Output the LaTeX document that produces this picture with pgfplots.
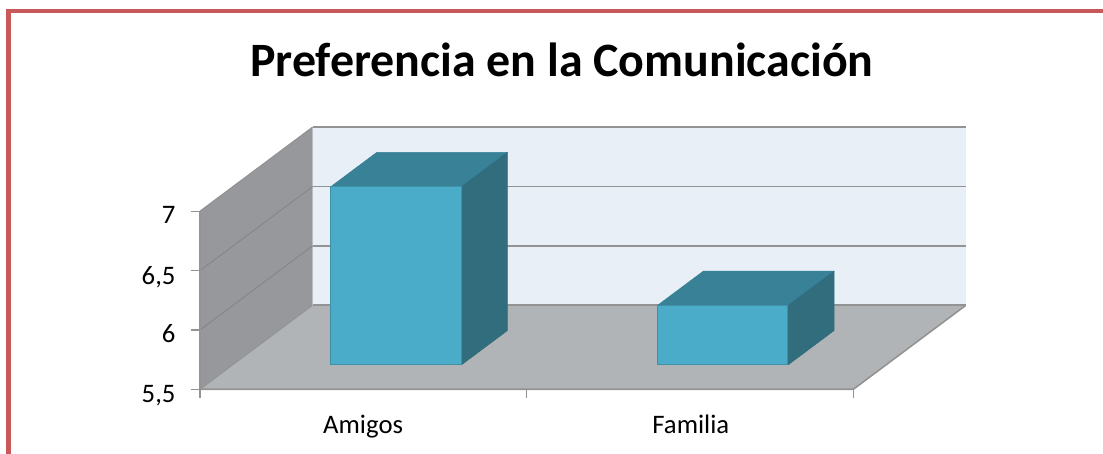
\documentclass[border=0pt]{standalone}
\usepackage{pgfplots}
\pgfplotsset{compat=1.18}
\usepackage{fontspec}
\setmainfont{Carlito}
\definecolor{cWall}{HTML}{96989B}
\definecolor{cBack}{HTML}{E8EFF6}
\definecolor{cFloor}{HTML}{B1B4B7}
\definecolor{cFront}{HTML}{4AACC8}
\definecolor{cEdge}{HTML}{3F90A9}
\definecolor{cTop}{HTML}{388197}
\definecolor{cSide}{HTML}{326D7D}
\definecolor{cAxis}{HTML}{939393}
\definecolor{cGridL}{HTML}{85878A}
\definecolor{cRed}{HTML}{C9585A}
\begin{document}
\begin{tikzpicture}[x=1pt,y=1pt]
\begin{axis}[
  x={(326.67pt,0pt)}, y={(112.5pt,84pt)}, z={(0pt,118.7pt)},
  xmin=-0.5, xmax=1.5, ymin=0, ymax=1, zmin=5.5, zmax=7,
  clip=false, no marks,
  axis lines=left,
  axis line style={draw=none},
  major tick length=0pt,
  xtick={0,1}, xticklabels={Amigos,Familia},
  ytick=\empty,
  ztick={5.5,6,6.5,7}, zticklabels={{5,5},6,{6,5},7},
  ticklabel style={font=\fontsize{26.7}{26.7}\selectfont,text=black},
  xticklabel style={xshift=7.3pt,yshift=-22pt},
  zticklabel style={xshift=-21pt},
  title={\fontsize{47.9}{47.9}\selectfont\bfseries Preferencia en la Comunicación},
  title style={at={(0.4725,1.169)},anchor=base},
]
% walls and floor
\addplot3[fill=cBack,draw=none] coordinates {(-0.5,1,5.5)(1.5,1,5.5)(1.5,1,7)(-0.5,1,7)};
\addplot3[fill=cWall,draw=none] coordinates {(-0.5,0,5.5)(-0.5,1,5.5)(-0.5,1,7)(-0.5,0,7)};
\addplot3[fill=cFloor,draw=none] coordinates {(-0.5,0,5.5)(1.5,0,5.5)(1.5,1,5.5)(-0.5,1,5.5)};
% grid lines
\addplot3[cGridL,line width=1pt] coordinates {(-0.5,0,6)(-0.5,1,6)};
\addplot3[cGridL,line width=1pt] coordinates {(-0.5,0,6.5)(-0.5,1,6.5)};
\addplot3[cAxis,line width=1.2pt] coordinates {(-0.5,0,7)(-0.5,1,7)};
\addplot3[cAxis,line width=1pt] coordinates {(-0.5,0,5.5)(-0.5,1,5.5)};
\addplot3[cAxis,line width=1.6pt] coordinates {(-0.5,1,5.5)(1.5,1,5.5)};
\addplot3[cAxis,line width=1.6pt] coordinates {(-0.5,1,6)(1.5,1,6)};
\addplot3[cAxis,line width=1.6pt] coordinates {(-0.5,1,6.5)(1.5,1,6.5)};
\addplot3[cAxis,line width=1.6pt] coordinates {(-0.5,1,7)(1.5,1,7)};
% axis edges and ticks
\addplot3[cAxis,line width=1.6pt] coordinates {(-0.5,0,7)(-0.5,0,5.5)(1.5,0,5.5)(1.5,1,5.5)};
\addplot3[cAxis,line width=1.2pt] coordinates {(-0.528,0,5.5)(-0.5,0,5.5)};
\addplot3[cAxis,line width=1.2pt] coordinates {(-0.528,0,6)(-0.5,0,6)};
\addplot3[cAxis,line width=1.2pt] coordinates {(-0.528,0,6.5)(-0.5,0,6.5)};
\addplot3[cAxis,line width=1.2pt] coordinates {(-0.528,0,7)(-0.5,0,7)};
\addplot3[cAxis,line width=1.2pt] coordinates {(-0.5,0,5.5)(-0.5,0,5.43)};
\addplot3[cAxis,line width=1.2pt] coordinates {(0.5,0,5.5)(0.5,0,5.43)};
\addplot3[cAxis,line width=1.2pt] coordinates {(1.5,0,5.5)(1.5,0,5.43)};
% Amigos = 7
\addplot3[fill=cTop,draw=cTop,line width=0.6pt,line join=round] coordinates {(-0.2,0.29,7)(0.2,0.29,7)(0.2,0.70,7)(-0.2,0.70,7)(-0.2,0.29,7)};
\addplot3[fill=cSide,draw=cSide,line width=0.6pt,line join=round] coordinates {(0.2,0.29,5.5)(0.2,0.70,5.5)(0.2,0.70,7)(0.2,0.29,7)(0.2,0.29,5.5)};
\addplot3[fill=cFront,draw=cEdge,line width=1pt] coordinates {(-0.2,0.29,5.5)(0.2,0.29,5.5)(0.2,0.29,7)(-0.2,0.29,7)(-0.2,0.29,5.5)};
% Familia = 6
\addplot3[fill=cTop,draw=cTop,line width=0.6pt,line join=round] coordinates {(0.8,0.29,6)(1.2,0.29,6)(1.2,0.70,6)(0.8,0.70,6)(0.8,0.29,6)};
\addplot3[fill=cSide,draw=cSide,line width=0.6pt,line join=round] coordinates {(1.2,0.29,5.5)(1.2,0.70,5.5)(1.2,0.70,6)(1.2,0.29,6)(1.2,0.29,5.5)};
\addplot3[fill=cFront,draw=cEdge,line width=1pt] coordinates {(0.8,0.29,5.5)(1.2,0.29,5.5)(1.2,0.29,6)(0.8,0.29,6)(0.8,0.29,5.5)};
\coordinate (fc) at (axis cs:-0.5,0,5.5);
\end{axis}
\fill[cRed] ([shift={(-194pt,-64.7pt)}]fc) rectangle ([shift={(-189pt,380.3pt)}]fc);
\fill[cRed] ([shift={(-194pt,376.6pt)}]fc) rectangle ([shift={(903pt,380.3pt)}]fc);
\pgfresetboundingbox
\path ([shift={(-200pt,-64.7pt)}]fc) rectangle ([shift={(903pt,389.3pt)}]fc);
\end{tikzpicture}
\end{document}
